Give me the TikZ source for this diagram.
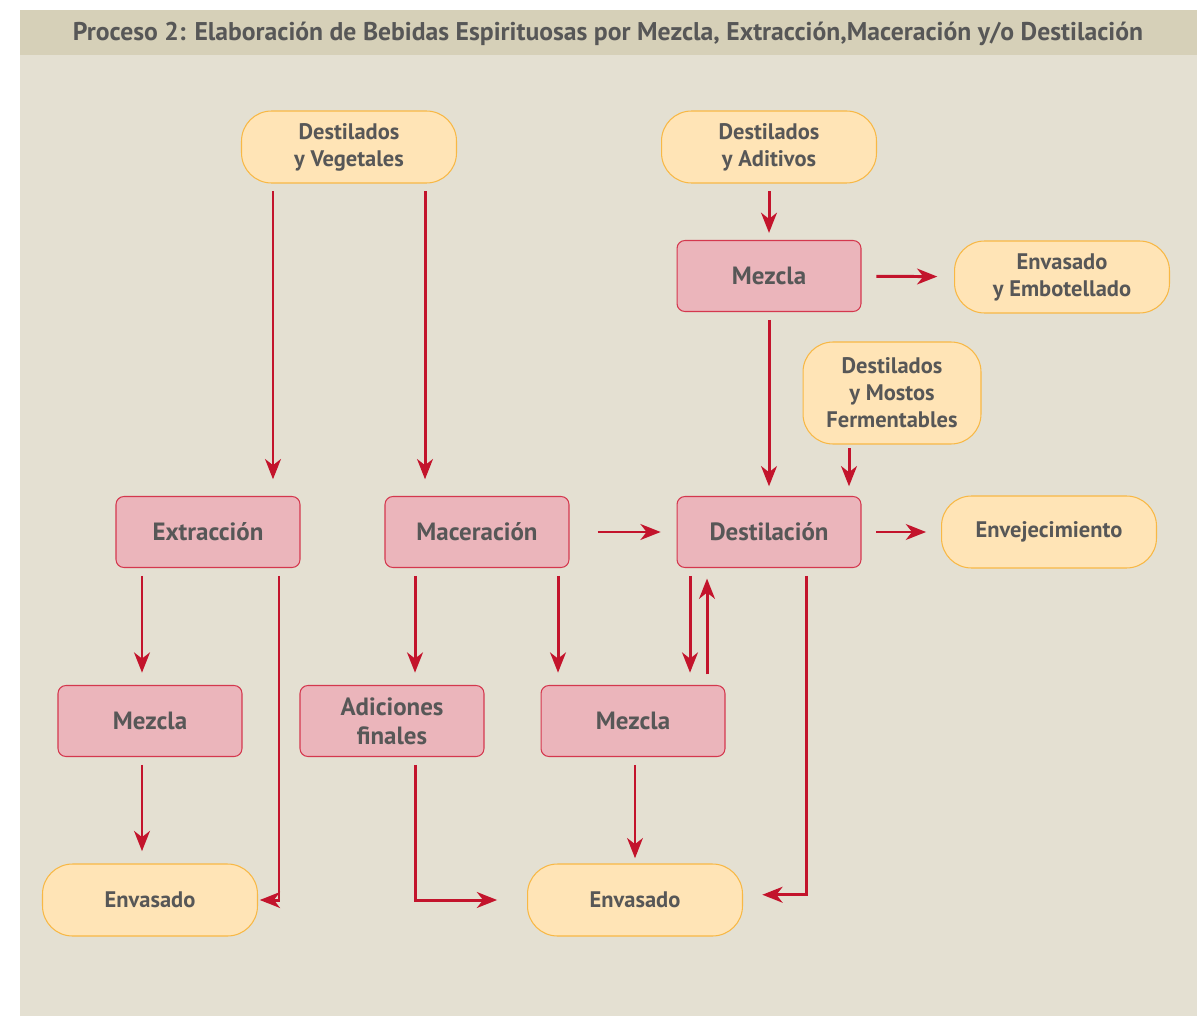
\documentclass[tikz,border=0pt]{standalone}
\usepackage{fontspec}
\setmainfont{PT Sans}
\usetikzlibrary{arrows.meta,positioning}

\definecolor{titlebg}{HTML}{D6D0B8}
\definecolor{panelbg}{HTML}{E4E0D2}
\definecolor{pinkfill}{HTML}{EBB5BB}
\definecolor{pinkline}{HTML}{D4384E}
\definecolor{sandfill}{HTML}{FFE4B6}
\definecolor{sandline}{HTML}{F8B845}
\definecolor{flow}{HTML}{C3142C}
\definecolor{txt}{HTML}{575757}

\begin{document}
\begin{tikzpicture}[x=0.02cm,y=-0.02cm,
  proc/.style={draw=pinkline, fill=pinkfill, rounded corners=4.5pt, minimum width=3.68cm, minimum height=1.42cm,
    text=txt, font=\fontsize{14.2}{16.5}\selectfont\bfseries, align=center, inner sep=0pt, line width=0.6pt},
  stock/.style={draw=sandline, fill=sandfill, rounded corners=0.6cm, minimum width=4.3cm, minimum height=1.44cm,
    text=txt, font=\fontsize{12.8}{15.3}\selectfont\bfseries, align=center, inner sep=0pt, line width=0.6pt},
  flowarr/.style={draw=flow, line width=1.7pt, -{Stealth[length=11.5pt,width=9pt,inset=3.5pt]},
    shorten <=4.5pt, shorten >=5.5pt}]
  \useasboundingbox (0,0) rectangle (1202,1016);
  \fill[white] (0,0) rectangle (1202,1016);
  \fill[panelbg] (20,55) rectangle (1197,1016);
  \fill[titlebg] (20,10) rectangle (1197,55);
  \node[text=txt, font=\fontsize{14.6}{17}\selectfont\bfseries] (title) at (608,34)
    {Proceso 2: Elaboración de Bebidas Espirituosas por Mezcla, Extracción,Maceración y/o Destilación};

  \node[stock] (dv) at (349,147) {Destilados\\y Vegetales};
  \node[stock] (da) at (769,147) {Destilados\\y Aditivos};
  \node[stock] (ee) at (1062,277) {Envasado\\y Embotellado};
  \node[stock, minimum width=3.56cm, minimum height=2.04cm] (dm) at (892,393) {Destilados\\y Mostos\\Fermentables};
  \node[stock] (enj) at (1049,532) {Envejecimiento};
  \node[stock] (env1) at (150,900) {Envasado};
  \node[stock] (env2) at (635,900) {Envasado};

  \node[proc] (mz1) at (769,276) {Mezcla};
  \node[proc] (ext) at (208,532) {Extracción};
  \node[proc] (mac) at (477,532) {Maceración};
  \node[proc] (dst) at (769,532) {Destilación};
  \node[proc] (mz2) at (150,721) {Mezcla};
  \node[proc] (adi) at (392,721) {Adiciones\\finales};
  \node[proc] (mz3) at (633,721) {Mezcla};

  \draw[flowarr, shorten >=9.5pt] (273,0 |- dv.south) -- (273,0 |- ext.north);
  \draw[flowarr, shorten >=9.5pt] (425,0 |- dv.south) -- (425,0 |- mac.north);
  \draw[flowarr, shorten >=4pt] (da) -- (mz1);
  \draw[flowarr, shorten <=8.5pt, shorten >=9.5pt] (mz1) -- (ee);
  \draw[flowarr] (mz1) -- (dst);
  \draw[flowarr, shorten <=2pt] (849,0 |- dm.south) -- (849,0 |- dst.north);
  \draw[flowarr, shorten <=16pt, shorten >=9pt] (mac) -- (dst);
  \draw[flowarr, shorten <=8.5pt, shorten >=8.5pt] (dst) -- (enj);

  \draw[flowarr, shorten >=7pt] (142,0 |- ext.south) -- (142,0 |- mz2.north);
  \draw[flowarr, shorten >=7pt] (415,0 |- mac.south) -- (415,0 |- adi.north);
  \draw[flowarr, shorten >=7pt] (558,0 |- mac.south) -- (558,0 |- mz3.north);
  \draw[flowarr, shorten >=7pt] (690,0 |- dst.south) -- (690,0 |- mz3.north);
  \draw[flowarr, shorten <=6pt, shorten >=6pt] (707,0 |- mz3.north) -- (707,0 |- dst.south);

  \draw[flowarr, shorten >=7pt] (142,0 |- mz2.south) -- (142,0 |- env1.north);
  \draw[flowarr, line width=1.2pt, shorten >=3pt] (635,0 |- mz3.south) -- (env2);
  \draw[flowarr, shorten >=1pt] (279,0 |- ext.south) |- (env1.east);
  \draw[flowarr, shorten >=17pt] (415,0 |- adi.south) |- (env2.west);
  \draw[flowarr, shorten >=11pt] (806,0 |- dst.south) |- ([yshift=3pt]env2.east);
\end{tikzpicture}
\end{document}
